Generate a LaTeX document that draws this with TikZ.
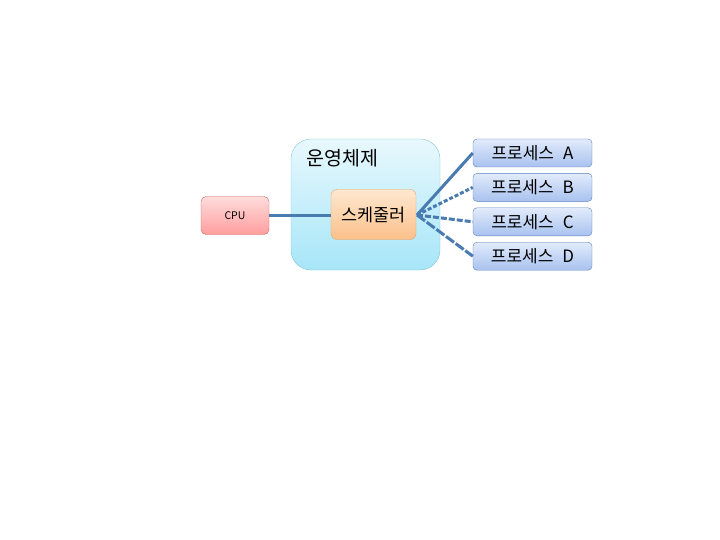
\documentclass[tikz,border=0pt]{standalone}
\usepackage{fontspec}
\setmainfont{Noto Sans CJK KR}
\usepackage{xcolor}
\usetikzlibrary{positioning}
\definecolor{linkblue}{HTML}{4A7BB0}
\definecolor{ostop}{HTML}{E8F8FD}
\definecolor{osbot}{HTML}{A6E6F8}
\definecolor{osline}{HTML}{86C6DA}
\definecolor{cputop}{HTML}{FFDCDC}
\definecolor{cpubot}{HTML}{FF9E9E}
\definecolor{cpuline}{HTML}{D06868}
\definecolor{schtop}{HTML}{FEE8D0}
\definecolor{schbot}{HTML}{FBC08A}
\definecolor{schline}{HTML}{E2A66A}
\definecolor{prtop}{HTML}{E2EBFB}
\definecolor{prbot}{HTML}{A8C2EF}
\definecolor{prline}{HTML}{5A7FC0}
\tikzset{
 osbox/.style={draw=osline,top color=ostop,bottom color=osbot,rounded corners=20pt,minimum width=149pt,minimum height=131pt},
 cpubox/.style={draw=cpuline,top color=cputop,bottom color=cpubot,rounded corners=5pt,minimum width=68pt,minimum height=38pt,font=\fontsize{10.5}{12}\selectfont},
 schbox/.style={draw=schline,top color=schtop,bottom color=schbot,rounded corners=6pt,minimum width=85pt,minimum height=50pt,font=\fontsize{17.5}{19}\selectfont},
 procbox/.style={draw=prline,top color=prtop,bottom color=prbot,rounded corners=4pt,minimum width=119pt,minimum height=28pt,inner sep=0pt,font=\fontsize{17}{19}\selectfont},
 link/.style={draw=linkblue,line width=3pt}
}
\newcommand\procname[1]{프로세스\hspace{9pt}#1}
\begin{document}
\begin{tikzpicture}[x=1pt,y=-1pt]
\useasboundingbox (0,0) rectangle (720,540);
\node[osbox](os)at(365.5,204.5){};
\node[font=\fontsize{19.5}{21}\selectfont](oslabel)at(342.5,158){운영체제};
\node[cpubox](cpu)at(235,215.5){CPU};
\node[schbox](sch)at(373.5,214.5){스케줄러};
\node[procbox](pa)at(532.5,153){\procname{A}};
\node[procbox,below=6pt of pa](pb){\procname{B}};
\node[procbox,below=6pt of pb](pc){\procname{C}};
\node[procbox,below=6pt of pc](pd){\procname{D}};
\coordinate(hub)at(417,215);
\draw[link](cpu.east)--(cpu.east-|sch.west);
\draw[link](hub)--(pa.west);
\draw[link,dash pattern=on 4pt off 2pt](hub)--(pb.west);
\draw[link,dash pattern=on 6pt off 2pt](hub)--(pc.west);
\draw[link,dash pattern=on 10pt off 2pt](hub)--(pd.west);
\end{tikzpicture}
\end{document}
